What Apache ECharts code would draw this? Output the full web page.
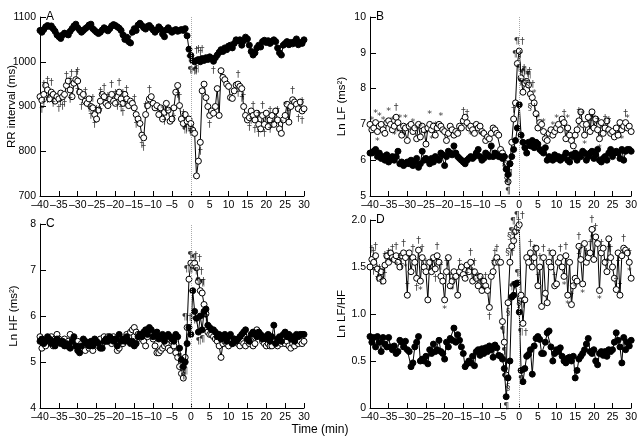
<!DOCTYPE html>
<html><head><meta charset="utf-8">
<script src="https://cdn.jsdelivr.net/npm/echarts@6/dist/echarts.min.js"></script>
<style>html,body{margin:0;padding:0;background:#fff}#c{width:640px;height:441px}</style>
</head><body><div id="c"></div>
<script>
// Time axis: -40 .. 30 min, every 0.5 min (141 samples per series)
const xTicks = [-40,-35,-30,-25,-20,-15,-10,-5,0,5,10,15,20,25,30];

// Panel A: RR interval (ms)
const rrFilled = [
1070,1066,1072,1078,1081,1079,1080,1074,1068,1060,
1056,1052,1060,1064,1062,1060,1068,1074,1080,1084,
1076,1071,1066,1070,1074,1077,1082,1084,1074,1070,
1066,1063,1066,1071,1076,1073,1069,1074,1080,1083,
1081,1078,1075,1070,1060,1050,1055,1045,1042,1066,
1074,1070,1082,1086,1081,1076,1073,1079,1081,1076,
1071,1066,1071,1078,1073,1062,1056,1071,1076,1070,
1066,1070,1072,1068,1070,1072,1070,1074,1058,1028,
1014,1002,1000,1003,1005,1000,1007,1003,1009,1005,
1011,1007,1001,1009,1015,1021,1027,1023,1031,1027,
1035,1037,1031,1041,1049,1047,1049,1037,1047,1055,
1051,1037,1023,1015,1020,1031,1037,1033,1045,1048,
1043,1047,1041,1045,1049,1045,1031,1020,1015,1037,
1041,1045,1038,1043,1040,1045,1051,1038,1043,1041,
1049];
const rrOpen = [
922,914,927,947,937,917,932,927,912,922,
917,930,922,927,947,957,937,922,952,960,
957,932,922,927,912,907,917,900,897,882,
872,892,912,927,922,907,902,917,927,912,
907,922,932,917,907,927,917,902,912,907,
897,882,872,862,836,830,882,902,917,922,
907,897,902,882,897,872,887,907,892,867,
872,897,932,947,902,872,862,882,867,872,
862,847,840,745,778,820,935,950,920,900,
880,890,885,900,940,880,980,965,960,950,
945,920,918,935,948,950,945,940,900,880,
870,875,890,880,870,885,860,850,880,860,
885,855,870,880,860,890,870,850,840,870,
880,905,865,900,915,910,905,895,910,890,
895];

// Panel B: Ln LF (ms^2)
const lfFilled = [
6.2,6.2,6.25,6.3,6.1,6.2,6.05,6.1,6.0,6.15,
5.95,6.05,6.1,6.0,6.1,6.25,5.9,5.95,5.85,5.9,
5.95,5.9,6.0,5.85,5.95,6.05,5.8,5.9,6.25,6.0,
6.05,6.0,5.9,6.05,5.95,6.1,6.05,6.0,6.2,6.15,
5.85,6.1,6.25,6.2,6.15,6.4,6.2,6.1,6.05,6.0,
5.95,5.9,6.0,6.05,6.1,6.05,6.1,6.2,6.3,6.1,
6.0,6.05,6.2,6.15,6.1,6.4,6.1,6.2,6.15,6.1,
6.1,6.05,6.1,5.75,5.6,5.9,6.1,6.3,6.55,6.9,
7.55,6.7,6.5,6.35,6.2,6.5,6.4,6.55,6.35,6.5,
6.45,6.3,6.25,6.2,6.35,6.0,6.1,6.05,6.0,6.15,
6.05,6.1,6.0,6.05,6.1,6.2,6.0,5.95,6.15,6.1,
6.2,6.0,6.15,6.1,6.25,6.2,6.0,6.1,6.2,6.25,
6.05,6.15,6.3,6.0,5.95,6.05,6.1,6.0,6.2,6.3,
6.1,6.2,6.25,6.2,6.05,6.3,6.0,6.25,6.3,6.3,
6.25];
const lfOpen = [
7.0,6.85,6.9,7.05,6.8,6.95,7.0,6.85,6.75,7.05,
7.1,7.0,6.85,6.95,7.2,7.05,6.9,6.7,6.95,6.9,
6.55,6.95,7.0,6.8,6.9,6.6,7.0,6.65,6.95,6.85,
6.45,6.9,7.0,6.85,6.95,6.7,6.9,7.0,6.95,6.85,
6.8,6.55,6.75,6.95,6.85,6.7,6.8,6.75,6.95,6.9,
7.1,7.2,7.05,6.9,6.95,6.85,6.75,7.0,6.9,6.95,
6.8,6.75,6.55,6.65,6.6,6.75,6.9,6.85,6.75,6.7,
6.3,6.2,6.1,5.9,5.4,5.9,6.5,7.15,7.6,8.7,
9.05,8.3,7.9,8.15,8.2,8.1,7.85,7.75,7.6,7.3,
6.9,7.05,7.0,6.8,6.6,6.55,6.75,6.85,6.7,6.8,
6.9,7.0,6.85,7.15,7.05,6.6,6.9,6.7,6.55,6.4,
6.7,6.85,7.1,7.35,7.0,6.7,7.0,7.2,6.8,7.35,
6.9,7.15,6.85,6.6,7.05,6.75,6.9,7.1,6.85,6.75,
6.8,6.65,6.9,6.7,7.05,6.85,6.95,7.05,6.9,6.95,
6.8];

// Panel C: Ln HF (ms^2)
const hfFilled = [
5.45,5.5,5.4,5.45,5.55,5.5,5.4,5.45,5.35,5.5,
5.45,5.4,5.45,5.35,5.4,5.35,5.3,5.45,5.55,5.35,
5.25,5.2,5.35,5.5,5.45,5.4,5.35,5.45,5.35,5.5,
5.45,5.4,5.3,5.3,5.45,5.5,5.45,5.55,5.5,5.45,
5.5,5.35,5.6,5.45,5.5,5.45,5.55,5.45,5.4,5.45,
5.35,5.4,5.55,5.6,5.55,5.65,5.7,5.6,5.75,5.7,
5.55,5.6,5.65,5.5,5.55,5.6,5.45,5.55,5.6,5.55,
5.5,5.45,5.6,5.55,5.3,5.05,4.9,5.0,5.4,5.75,
5.6,6.55,6.1,5.95,5.65,6.0,5.7,6.1,6.15,5.8,
5.75,5.7,5.7,5.65,5.55,5.6,5.5,5.55,5.6,5.45,
5.55,5.6,5.4,5.5,5.45,5.5,5.55,5.6,5.65,5.7,
5.5,5.45,5.6,5.65,5.6,5.55,5.65,5.6,5.5,5.55,
5.5,5.6,5.45,5.55,5.8,5.4,5.5,5.55,5.45,5.6,
5.65,5.55,5.6,5.5,5.55,5.45,5.6,5.55,5.6,5.6,
5.6];
const hfOpen = [
5.55,5.3,5.4,5.35,5.5,5.45,5.55,5.35,5.5,5.6,
5.5,5.45,5.4,5.5,5.35,5.45,5.6,5.4,5.35,5.4,
5.45,5.35,5.4,5.3,5.25,5.4,5.3,5.35,5.25,5.45,
5.4,5.35,5.5,5.4,5.55,5.45,5.55,5.5,5.4,5.55,
5.5,5.25,5.3,5.45,5.4,5.5,5.6,5.55,5.65,5.7,
5.75,5.65,5.6,5.55,5.5,5.45,5.35,5.55,5.65,5.6,
5.5,5.35,5.2,5.2,5.25,5.3,5.35,5.4,5.3,5.25,
5.45,5.35,5.2,5.1,4.9,4.75,4.65,5.1,5.75,6.8,
7.15,7.1,7.15,7.05,6.75,6.55,6.5,6.25,6.05,5.65,
5.6,5.6,5.55,5.5,5.45,5.35,5.1,5.4,5.45,5.4,
5.35,5.45,5.4,5.5,5.45,5.4,5.35,5.45,5.4,5.35,
5.45,5.4,5.45,5.35,5.4,5.7,5.6,5.55,5.45,5.4,
5.35,5.4,5.35,5.35,5.45,5.4,5.35,5.45,5.4,5.5,
5.4,5.45,5.35,5.3,5.4,5.35,5.45,5.4,5.45,5.4,
5.45];

// Panel D: Ln LF/HF
const ratioFilled = [
0.76,0.7,0.75,0.65,0.76,0.7,0.6,0.75,0.68,0.65,
0.75,0.65,0.62,0.66,0.58,0.6,0.72,0.7,0.65,0.71,
0.62,0.6,0.44,0.48,0.65,0.7,0.76,0.5,0.52,0.5,
0.55,0.47,0.62,0.58,0.68,0.6,0.62,0.72,0.6,0.58,
0.52,0.7,0.65,0.74,0.72,0.85,0.7,0.78,0.72,0.65,
0.58,0.44,0.47,0.5,0.48,0.55,0.45,0.6,0.62,0.56,
0.63,0.58,0.64,0.6,0.66,0.62,0.54,0.67,0.64,0.56,
0.55,0.52,0.42,0.12,0.32,0.5,1.18,1.2,1.32,1.33,
1.02,0.4,0.28,0.42,0.55,0.57,0.62,0.36,0.66,0.74,
0.76,0.73,0.58,0.58,0.7,0.8,0.82,0.65,0.5,0.58,
0.62,0.6,0.64,0.55,0.5,0.48,0.53,0.54,0.5,0.55,
0.32,0.4,0.52,0.55,0.58,0.62,0.68,0.74,0.6,0.58,
0.62,0.5,0.46,0.58,0.6,0.56,0.6,0.55,0.62,0.6,
0.62,0.7,0.8,0.72,0.65,0.48,0.75,0.62,0.7,0.66,
0.72];
const ratioOpen = [
1.5,1.58,1.55,1.62,1.48,1.38,1.45,1.35,1.52,1.62,
1.55,1.65,1.6,1.58,1.62,1.55,1.5,1.62,1.65,1.6,
1.2,1.65,1.45,1.6,1.55,1.38,1.68,1.35,1.6,1.5,
1.45,1.15,1.55,1.45,1.6,1.48,1.62,1.55,1.4,1.35,
1.15,1.45,1.6,1.3,1.35,1.45,1.4,1.2,1.45,1.5,
1.42,1.38,1.52,1.45,1.55,1.35,1.45,1.38,1.3,1.4,
1.25,1.35,1.3,1.25,1.07,1.4,1.45,1.55,1.6,1.55,
1.55,0.92,0.7,0.35,1.12,1.55,1.72,1.78,1.88,1.92,
1.95,1.2,0.9,1.15,1.6,1.55,1.65,1.5,1.6,1.7,
1.3,1.5,1.08,1.6,1.22,1.12,1.55,1.5,1.65,1.3,
1.32,1.55,1.6,1.5,1.4,1.62,1.2,1.55,1.1,1.3,
1.38,1.35,1.72,1.58,1.32,1.75,1.55,1.6,1.65,1.9,
1.58,1.82,1.75,1.25,1.65,1.7,1.55,1.45,1.8,1.6,
1.5,1.38,1.26,1.65,1.2,1.62,1.7,1.68,1.65,1.55,
1.38];

// Significance symbols: [time, symbol]
const annAOpenTop = [[-39,'†'],[-38,'†'],[-37,'†'],[-33,'†'],[-32,'†'],[-31,'††'],[-30,'†'],[-28,'†'],[-26,'†'],[-25,'†'],[-24,'†'],[-23,'†'],[-22,'†'],[-21,'†'],[-20,'†'],[-19,'†'],[-18,'†'],[-17,'†'],[-15,'†'],[-12,'†'],[-11,'†'],[-7.5,'*'],[-5.5,'*'],[-3,'†'],[-2,'†'],[12.5,'†'],[14,'†'],[16.5,'†'],[18,'†'],[19,'†'],[21,'†'],[23,'†'],[24,'*'],[25,'*'],[26,'†'],[27,'†'],[29.5,'†']];
const annAOpenBot = [[-39.5,'†'],[-39,'†'],[-38,'†'],[-36.5,'†'],[-35,'†'],[-34.5,'†'],[-34,'†'],[-33.5,'†'],[-32,'†'],[-30,'†'],[-29,'†'],[-27,'†'],[-26.5,'†'],[-25.5,'†'],[-24,'†'],[-19.5,'†'],[-18.5,'†'],[-18,'†'],[-17.5,'†'],[-14.5,'†'],[-13,'†'],[-12.5,'†'],[-7,'†'],[-6.5,'†'],[-4.5,'†'],[-3.5,'†'],[-1,'¶†'],[-0.5,'¶†'],[0,'†'],[2.5,'†'],[5,'†'],[12.5,'†'],[13.5,'†'],[15.5,'†'],[16,'†'],[17,'†'],[18,'†'],[19.5,'†'],[21,'†'],[21.5,'†'],[28.5,'†'],[29.5,'†']];
const annAFillTop = [[1.5,'†'],[2,'†'],[2.5,'†'],[3,'†']];
const annAFillBot = [[-0.5,'¶'],[0.5,'¶†'],[1,'¶'],[1.5,'¶'],[6,'†']];
const annBOpenTop = [[-39.5,'*'],[-38.5,'*'],[-37.5,'*'],[-36.5,'*'],[-35,'*'],[-34,'*'],[-33,'†'],[-32,'*'],[-30.5,'*'],[-28.5,'*'],[-27.5,'*'],[-26.5,'*'],[-25,'*'],[-24,'*'],[-22.5,'*'],[-21,'*'],[-15,'†'],[-14,'†'],[-1.5,'†'],[-0.5,'¶†'],[0,'¶†'],[0.5,'¶†'],[1,'¶†'],[1.5,'¶†'],[2,'¶†'],[2.5,'¶'],[3,'§†'],[4,'*'],[5,'*'],[6.5,'*'],[9,'*'],[10,'*'],[12,'†'],[13,'*'],[16,'†'],[17,'*'],[19,'†'],[20,'*'],[21,'†'],[23,'†'],[24,'†'],[28.5,'†'],[29,'*']];
const annBOpenBot = [[-38,'*'],[-33.5,'*'],[-32.5,'*'],[-31,'*'],[-23.5,'*'],[-13,'*'],[-10.5,'*'],[-4,'§'],[-3,'¶'],[3.5,'§†'],[17.5,'*'],[21.5,'*'],[27.5,'*']];
const annBFillBot = [[-3.5,'§'],[-3,'¶'],[-2.5,'¶']];
const annCOpenTop = [[-1,'¶†'],[-0.5,'¶†'],[0.5,'¶†'],[1.5,'¶†'],[2,'¶†'],[2.5,'¶†'],[3,'¶']];
const annCFillBot = [[-3,'¶'],[-2.5,'¶'],[-2,'¶'],[-1.5,'¶'],[1,'¶'],[2,'¶'],[3,'¶'],[4,'¶']];
const annDOpenTop = [[-39.5,'†'],[-39,'†'],[-38.5,'†'],[-37.5,'†'],[-36.5,'†'],[-36,'†'],[-35,'†'],[-34,'†'],[-33,'†'],[-32,'†'],[-31,'†'],[-30,'†'],[-28.5,'†'],[-27,'†'],[-26,'†'],[-25,'†'],[-23.5,'†'],[-22,'†'],[-21,'†'],[-19.5,'†'],[-18.5,'†'],[-16,'†'],[-13,'†'],[-12.5,'†'],[-12,'†'],[-11,'†'],[-10,'†'],[-9,'†'],[-7,'†'],[-6.5,'†'],[-6,'†'],[-2.5,'§†'],[-2,'§†'],[-1.5,'¶†'],[-1,'¶†'],[0,'¶†'],[3,'†'],[4,'†'],[5,'†'],[5.5,'†'],[6.5,'†'],[8,'†'],[9.5,'†'],[11,'†'],[12.5,'†'],[14,'†'],[16,'†'],[16.5,'†'],[18,'†'],[19,'†'],[19.5,'†'],[20.5,'†'],[22,'†'],[23.5,'†'],[24.5,'†'],[26,'†'],[27,'†'],[28,'†'],[29.5,'†']];
const annDOpenBot = [[-39,'†'],[-38,'†'],[-37,'†'],[-36,'†'],[-34.5,'*'],[-33,'*'],[-31.5,'†'],[-30.5,'*'],[-27.5,'†'],[-26.5,'*'],[-24,'*'],[-22.5,'†'],[-20,'*'],[-18,'*'],[-17.5,'†'],[-14,'†'],[-12,'*'],[-9.5,'*'],[-8,'†'],[-4.5,'¶'],[-4,'¶'],[-3,'§'],[0.5,'§†'],[1,'¶†'],[12,'*'],[13,'*'],[15,'*'],[16,'†'],[17,'*'],[19.5,'*'],[21.5,'*'],[24,'†'],[26.5,'†'],[29.5,'*']];
const annDFillBot = [[-4,'¶'],[-3.5,'¶'],[-3,'§'],[0.5,'¶']];
const annDFillTop = [[-2,'¶'],[-1.5,'¶'],[-0.5,'¶'],[0,'§']];

const FONT = 'Liberation Sans, Arial, sans-serif';
const toPairs = arr => arr.map((v,i)=>[-40 + i*0.5, v]);
const valAt = (arr, t) => arr[Math.round((t+40)*2)];
const dashed = v => String(v).replace('-', '\u2013');

const grids = [
  {left:40, top:17, width:264, height:179},
  {left:370, top:17, width:262, height:179},
  {left:40, top:224, width:264, height:184},
  {left:370, top:220, width:262, height:188}
];
const yDefs = [
  {min:700, max:1100, interval:100, name:'RR interval (ms)', gap:22, fmt: v=>String(v)},
  {min:5, max:10, interval:1, name:'Ln LF (ms²)', gap:22, fmt: v=>String(v)},
  {min:4, max:8, interval:1, name:'Ln HF (ms²)', gap:20, fmt: v=>String(v)},
  {min:0, max:2, interval:0.5, name:'Ln LF/HF', gap:22, fmt: v=> v===0 ? '0' : v.toFixed(1)}
];
const letters = ['A','B','C','D'];

const xAxes = grids.map((g,i)=>({
  type:'value', gridIndex:i, min:-40, max:30, interval:5,
  axisLine:{show:true, onZero:false, lineStyle:{color:'#000', width:1}},
  axisTick:{show:true, inside:true, length:5, lineStyle:{color:'#000'}},
  axisLabel:{color:'#000', fontSize:10.5, fontFamily:FONT, margin:4, showMinLabel:true, showMaxLabel:true, hideOverlap:false, formatter: v=>dashed(v)},
  splitLine:{show:false}
}));
const yAxes = grids.map((g,i)=>({
  type:'value', gridIndex:i, min:yDefs[i].min, max:yDefs[i].max, interval:yDefs[i].interval,
  name:yDefs[i].name, nameLocation:'middle', nameGap:yDefs[i].gap, nameRotate:90, nameMoveOverlap:false,
  nameTextStyle:{color:'#000', fontSize:11.5, fontFamily:FONT},
  axisLine:{show:true, onZero:false, lineStyle:{color:'#000', width:1}},
  axisTick:{show:true, inside:true, length:6, lineStyle:{color:'#000'}},
  axisLabel:{color:'#000', fontSize:10.5, fontFamily:FONT, margin:4, formatter: yDefs[i].fmt},
  splitLine:{show:false}
}));

function lineSeries(i, arr, filled, withMark){
  const s = {
    type:'line', xAxisIndex:i, yAxisIndex:i, data:toPairs(arr),
    symbol:'circle', symbolSize:6, showSymbol:true,
    lineStyle:{color:'#000', width:1},
    itemStyle:{color: filled ? '#000' : '#fff', borderColor:'#000', borderWidth:1},
    z: filled ? 3 : 2, silent:true
  };
  if (withMark) s.markLine = {silent:true, symbol:['none','none'], label:{show:false},
    lineStyle:{color:'#aaa', type:'dotted', width:1},
    data:[[{coord:[0, yDefs[i].min]},{coord:[0, yDefs[i].max]}]]};
  return s;
}
function annSeries(i, arr, list, pos){
  return {
    type:'scatter', xAxisIndex:i, yAxisIndex:i, symbolSize:1, silent:true, z:6,
    itemStyle:{color:'rgba(0,0,0,0)'},
    data:list.map(([t,txt])=>({value:[t, valAt(arr,t)], label:{formatter:txt}})),
    label:{show:true, position:pos, distance:4, fontSize:9.5, color:'#000', fontFamily:'DejaVu Sans, sans-serif'}
  };
}

const series = [
  lineSeries(0, rrOpen, false, true), lineSeries(0, rrFilled, true, false),
  lineSeries(1, lfOpen, false, true), lineSeries(1, lfFilled, true, false),
  lineSeries(2, hfOpen, false, true), lineSeries(2, hfFilled, true, false),
  lineSeries(3, ratioOpen, false, true), lineSeries(3, ratioFilled, true, false),
  annSeries(0, rrOpen, annAOpenTop, 'top'), annSeries(0, rrOpen, annAOpenBot, 'bottom'),
  annSeries(0, rrFilled, annAFillTop, 'top'), annSeries(0, rrFilled, annAFillBot, 'bottom'),
  annSeries(1, lfOpen, annBOpenTop, 'top'), annSeries(1, lfOpen, annBOpenBot, 'bottom'),
  annSeries(1, lfFilled, annBFillBot, 'bottom'),
  annSeries(2, hfOpen, annCOpenTop, 'top'), annSeries(2, hfFilled, annCFillBot, 'bottom'),
  annSeries(3, ratioOpen, annDOpenTop, 'top'), annSeries(3, ratioOpen, annDOpenBot, 'bottom'),
  annSeries(3, ratioFilled, annDFillBot, 'bottom'), annSeries(3, ratioFilled, annDFillTop, 'top')
];

const chart = echarts.init(document.getElementById('c'), null, {renderer:'canvas'});
chart.setOption({
  animation:false,
  backgroundColor:'#fff',
  title: grids.map((g,i)=>({text:letters[i], left:g.left+6, top:g.top-6, padding:0,
    textStyle:{fontSize:12, fontWeight:'normal', color:'#000', fontFamily:FONT}})).concat([
    {text:'Time (min)', left:'center', top:424, padding:0, textStyle:{fontSize:12, fontWeight:'normal', color:'#000', fontFamily:FONT}}
  ]),
  grid:grids, xAxis:xAxes, yAxis:yAxes, series:series
});
</script></body></html>
